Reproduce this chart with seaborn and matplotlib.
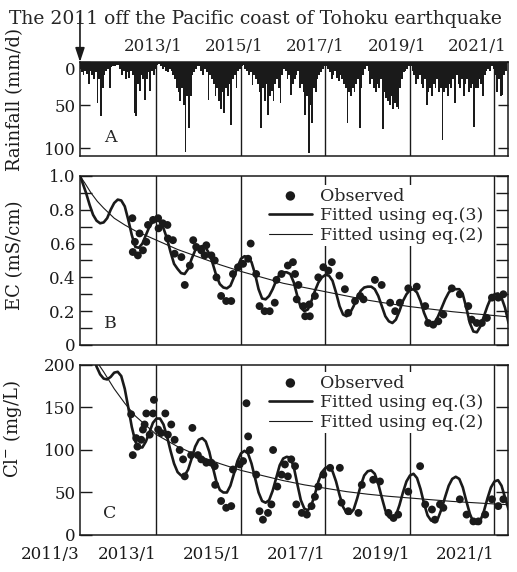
import numpy as np
import matplotlib
matplotlib.use('Agg')
import matplotlib.pyplot as plt
from matplotlib.ticker import MultipleLocator
import seaborn as sns

# x axis in decimal years; it starts on the day of the earthquake (2011/3/11)
t_start, t_end = 2011.19, 2021.32
year_lines = [2013, 2015, 2017, 2019, 2021]
bottom_ticks = [t_start] + year_lines
bottom_labels = ['2011/3', '2013/1', '2015/1', '2017/1', '2019/1', '2021/1']
top_labels = ['2013/1', '2015/1', '2017/1', '2019/1', '2021/1']
top_shift = [-2.5, -4.8, -7.7, -9.4, -12.2]   # points, labels sit a bit left of the lines

# half-monthly rainfall (mm/d), starting March 2011
rain_mm = [
    8, 12, 15, 10, 14, 25, 10, 15, 20, 12, 48, 20, 63, 30, 15, 10, 8, 30, 6, 5,                    # 2011
    5, 3, 4, 8, 15, 10, 20, 12, 18, 10, 15, 59, 63, 25, 34, 15, 20, 44, 20, 12, 34, 10, 15, 8,     # 2012
    3, 2, 5, 8, 6, 10, 12, 8, 10, 15, 20, 30, 35, 45, 30, 50, 104, 40, 77, 40, 15, 12, 8, 5,       # 2013
    5, 10, 15, 8, 12, 44, 15, 20, 25, 40, 30, 45, 55, 35, 59, 30, 40, 25, 73, 20, 15, 30, 10, 8,   # 2014
    5, 3, 8, 10, 15, 12, 27, 15, 20, 25, 35, 77, 30, 45, 25, 62, 40, 34, 45, 25, 20, 30, 47, 15,   # 2015
    8, 10, 20, 15, 38, 25, 20, 15, 10, 30, 25, 35, 61, 40, 106, 50, 71, 30, 35, 20, 15, 12, 8, 5,  # 2016
    5, 8, 12, 20, 15, 10, 18, 22, 15, 20, 25, 30, 71, 35, 40, 30, 35, 25, 20, 76, 30, 15, 8, 5,    # 2017
    10, 25, 20, 30, 35, 25, 30, 20, 78, 35, 42, 45, 50, 40, 55, 48, 52, 55, 30, 20, 12, 10, 8, 5,  # 2018
    5, 10, 15, 25, 20, 15, 25, 30, 20, 50, 35, 30, 40, 25, 30, 20, 35, 30, 91, 35, 30, 40, 25, 30, # 2019
    20, 47, 15, 25, 30, 20, 40, 25, 20, 35, 30, 25, 75, 30, 30, 20, 25, 40, 15, 10, 8, 10, 5, 8,   # 2020
    15, 35, 20, 40, 38, 15, 10,                                                                     # 2021
]

# observed EC (mS/cm)
ec_obs_t = [
    2012.43, 2012.44, 2012.49, 2012.56, 2012.60, 2012.68, 2012.76, 2012.80, 2012.92,
    2013.04, 2013.05, 2013.15, 2013.26, 2013.27, 2013.39, 2013.43, 2013.59, 2013.67, 2013.79, 2013.87, 2013.94,
    2014.06, 2014.14, 2014.18, 2014.30, 2014.38, 2014.42, 2014.53, 2014.65, 2014.77, 2014.81, 2014.93,
    2015.05, 2015.17, 2015.23, 2015.36, 2015.44, 2015.56, 2015.68, 2015.80, 2015.84, 2015.96,
    2016.11, 2016.23, 2016.28, 2016.32, 2016.36, 2016.48, 2016.52, 2016.62, 2016.63, 2016.75, 2016.83, 2016.95,
    2017.07, 2017.15, 2017.33, 2017.46, 2017.54, 2017.70, 2017.82, 2017.90,
    2018.17, 2018.33, 2018.53, 2018.65, 2018.76, 2018.96,
    2019.16, 2019.36, 2019.43, 2019.55, 2019.67, 2019.79, 2019.99,
    2020.18, 2020.38, 2020.46, 2020.58, 2020.70, 2020.82, 2020.94,
    2021.09, 2021.21,
]
ec_obs = [
    0.75, 0.55, 0.61, 0.53, 0.66, 0.56, 0.61, 0.71, 0.74,
    0.75, 0.69, 0.72, 0.71, 0.63, 0.62, 0.54, 0.52, 0.355, 0.47, 0.62, 0.58,
    0.56, 0.53, 0.59, 0.53, 0.50, 0.40, 0.29, 0.26, 0.26, 0.42, 0.46,
    0.48, 0.51, 0.60, 0.42, 0.23, 0.20, 0.20, 0.25, 0.385, 0.42,
    0.47, 0.49, 0.42, 0.27, 0.355, 0.23, 0.17, 0.24, 0.17, 0.29, 0.40, 0.46,
    0.44, 0.49, 0.41, 0.33, 0.19, 0.26, 0.29, 0.27,
    0.385, 0.355, 0.25, 0.20, 0.25, 0.335,
    0.345, 0.23, 0.13, 0.12, 0.14, 0.18, 0.335,
    0.30, 0.23, 0.15, 0.13, 0.13, 0.16, 0.28,
    0.28, 0.30,
]

# observed Cl- (mg/L)
cl_obs_t = [
    2012.40, 2012.44, 2012.52, 2012.55, 2012.64, 2012.68, 2012.72, 2012.76, 2012.84, 2012.92, 2012.94,
    2013.04, 2013.11, 2013.21, 2013.27, 2013.35, 2013.43, 2013.55, 2013.63, 2013.67, 2013.82, 2013.85, 2013.98,
    2014.06, 2014.18, 2014.30, 2014.38, 2014.39, 2014.53, 2014.65, 2014.77, 2014.81, 2014.97,
    2015.05, 2015.13, 2015.17, 2015.21, 2015.36, 2015.44, 2015.52, 2015.64, 2015.72, 2015.76, 2015.86, 2015.96,
    2016.04, 2016.11, 2016.19, 2016.28, 2016.31, 2016.44, 2016.56, 2016.67, 2016.75, 2016.83, 2016.95,
    2017.11, 2017.34, 2017.38, 2017.54, 2017.78, 2017.86,
    2018.13, 2018.29, 2018.49, 2018.61, 2018.72, 2018.96,
    2019.24, 2019.36, 2019.52, 2019.59, 2019.71, 2019.79,
    2020.18, 2020.34, 2020.50, 2020.62, 2020.78, 2020.94,
    2021.09, 2021.21,
]
cl_obs = [
    142, 94, 114, 104, 112, 124, 130, 143, 118, 143, 159,
    124, 120, 143, 118, 130, 112, 100, 89, 69, 94, 126, 94,
    89, 85, 85, 81, 59, 40, 32, 34, 77, 83,
    87, 155, 116, 100, 71, 28, 18, 26, 36, 100, 57, 71,
    83, 69, 89, 81, 36, 26, 24, 34, 45, 57, 71,
    79, 79, 38, 28, 26, 59,
    65, 63, 26, 20, 24, 51,
    81, 36, 30, 18, 36, 32,
    42, 24, 16, 16, 24, 42,
    34, 42,
]

# curve fitted with eq.(3), read monthly from March 2011 to May 2021
ec_fit3 = [
    1.02, 0.96, 0.90, 0.83, 0.77, 0.735, 0.72, 0.725, 0.75, 0.80,
    0.84, 0.86, 0.855, 0.82, 0.74, 0.65, 0.58, 0.575, 0.60, 0.65, 0.70, 0.73,
    0.74, 0.73, 0.69, 0.63, 0.55, 0.48, 0.45, 0.425, 0.42, 0.45, 0.51, 0.56,
    0.58, 0.585, 0.575, 0.54, 0.48, 0.41, 0.36, 0.34, 0.335, 0.35, 0.40, 0.46,
    0.51, 0.525, 0.52, 0.49, 0.42, 0.33, 0.275, 0.27, 0.29, 0.33, 0.38, 0.42,
    0.43, 0.43, 0.42, 0.37, 0.29, 0.22, 0.20, 0.21, 0.26, 0.32, 0.37, 0.40,
    0.415, 0.41, 0.38, 0.31, 0.23, 0.18, 0.17, 0.19, 0.23, 0.28, 0.32, 0.34,
    0.345, 0.345, 0.33, 0.29, 0.23, 0.17, 0.14, 0.13, 0.15, 0.20, 0.26, 0.30,
    0.325, 0.33, 0.31, 0.26, 0.19, 0.14, 0.12, 0.13, 0.17, 0.22, 0.27, 0.31,
    0.33, 0.33, 0.33, 0.30, 0.22, 0.13, 0.08, 0.075, 0.11, 0.17, 0.23, 0.28,
    0.30, 0.305, 0.28, 0.22, 0.13,
]
cl_fit3 = [
    275, 255, 238, 224, 210, 198, 189, 184, 183, 186,
    191, 192, 187, 172, 150, 127, 110, 103, 103, 110, 121, 132,
    137, 137, 130, 116, 99, 84, 74, 70, 70, 77, 90, 104,
    112, 114, 110, 98, 80, 63, 53, 50, 50, 58, 72, 87,
    96, 99, 96, 84, 67, 50, 40, 38, 41, 52, 67, 82,
    90, 92, 91, 80, 60, 41, 31, 29, 35, 48, 63, 74,
    79, 80, 75, 63, 47, 33, 26, 25, 30, 43, 58, 70,
    75, 76, 72, 60, 44, 29, 21, 19, 23, 35, 50, 63,
    70, 72, 67, 54, 37, 23, 17, 16, 20, 31, 45, 58,
    66, 68.5, 66, 56, 40, 25, 15, 13, 17, 28, 43, 56,
    63, 64.5, 58, 44, 30,
]

# curve fitted with eq.(2)
fit2_t = [2011.19, 2011.3, 2011.45, 2011.6, 2011.75, 2012.0, 2012.25, 2012.5, 2013.0, 2013.5,
          2014.0, 2014.5, 2015.0, 2015.5, 2016.0, 2016.5, 2017.0, 2017.5, 2018.0, 2018.5,
          2019.0, 2019.5, 2020.0, 2020.5, 2021.0, 2021.35]
ec_fit2 = [1.00, 0.96, 0.90, 0.85, 0.81, 0.75, 0.71, 0.675, 0.62, 0.565,
           0.52, 0.475, 0.435, 0.40, 0.365, 0.34, 0.315, 0.29, 0.265, 0.245,
           0.227, 0.212, 0.197, 0.185, 0.174, 0.166]
cl_fit2 = [255, 238, 218, 203, 192, 172, 155, 140, 118, 104,
           93, 84, 76, 70, 64, 59, 55, 51, 48, 45.5,
           43.5, 41.5, 39.5, 38, 36.5, 35.5]

rain_t = 2011 + 2 / 12 + (np.arange(len(rain_mm)) + 0.5) / 24
fit3_t = 2011 + 2 / 12 + np.arange(len(ec_fit3)) / 12

sns.set_theme(style='ticks')
plt.rcParams['font.family'] = ['DejaVu Serif']
plt.rcParams['mathtext.fontset'] = 'dejavuserif'
plt.rcParams['axes.linewidth'] = 1.1
FS = 12.5
TS = 12

fig = plt.figure(figsize=(5.17, 5.72), dpi=100)
ax_a = fig.add_axes([0.1547, 0.7273, 0.8279, 0.1643])
ax_b = fig.add_axes([0.1547, 0.3969, 0.8279, 0.2955])
ax_c = fig.add_axes([0.1547, 0.0647, 0.8279, 0.2972])

for ax in (ax_a, ax_b, ax_c):
    ax.set_xlim(t_start, t_end)
    for y in year_lines:
        ax.axvline(y, color='k', lw=1.0, zorder=1)
    for s in ax.spines.values():
        s.set_color('k')
    ax.tick_params(axis='y', which='both', direction='in', length=8.5, width=1,
                   left=True, right=True, labelsize=TS, pad=3, colors='k')
    ax.tick_params(axis='x', length=0, labelsize=TS, colors='k')

# A: rainfall
ax_a.bar(rain_t, rain_mm, width=1 / 24, color='k', linewidth=0, zorder=2)
ax_a.set_ylim(109, 0)
ax_a.set_yticks([0, 50, 100])
ax_a.set_yticklabels(['0', '50', '100'])
ax_a.get_yticklabels()[0].set_verticalalignment('top')
ax_a.tick_params(axis='y', length=7.5)
ax_a.set_xticks([])
for yr, lab, dx in zip(year_lines, top_labels, top_shift):
    ax_a.annotate(lab, xy=(yr, 1), xycoords=('data', 'axes fraction'), xytext=(dx, 5),
                  textcoords='offset points', ha='center', va='bottom', fontsize=TS,
                  annotation_clip=False)
ax_a.set_ylabel('Rainfall (mm/d)', fontsize=13, color='k')
ax_a.yaxis.set_label_coords(-0.130, 0.6)
ax_a.text(0.07, 0.20, 'A', transform=ax_a.transAxes, fontsize=FS, ha='center', va='center')
ax_a.annotate('', xy=(0, 1), xycoords='axes fraction', xytext=(0, 1.5), textcoords='axes fraction',
              arrowprops=dict(arrowstyle='-|>,head_length=0.6,head_width=0.2', mutation_scale=14,
                              color='k', lw=1.2, shrinkA=0, shrinkB=0),
              annotation_clip=False)
fig.text(0.495, 0.967, 'The 2011 off the Pacific coast of Tohoku earthquake',
         ha='center', va='center', fontsize=13.5)


def water_panel(ax, obs_t, obs, fit3, fit2, ylim, letter, ylabel, label_y, leg_top):
    sns.scatterplot(x=obs_t, y=obs, ax=ax, color='k', s=32, edgecolor='none', linewidth=0,
                    label='Observed', zorder=3)
    sns.lineplot(x=fit3_t, y=fit3, ax=ax, color='k', linewidth=1.9,
                 label='Fitted using eq.(3)', zorder=2)
    sns.lineplot(x=fit2_t, y=fit2, ax=ax, color='k', linewidth=0.8,
                 label='Fitted using eq.(2)', zorder=2)
    ax.set_ylim(*ylim)
    ax.set_ylabel(ylabel, fontsize=13, color='k')
    ax.yaxis.set_label_coords(-0.130, label_y)
    ax.text(0.07, 0.125, letter, transform=ax.transAxes, fontsize=FS, ha='center', va='center')
    handles, labels = ax.get_legend_handles_labels()
    order = ['Observed', 'Fitted using eq.(3)', 'Fitted using eq.(2)']
    hs = [handles[labels.index(o)] for o in order]
    ax.legend(hs, order, loc='upper right', bbox_to_anchor=(0.948, leg_top), frameon=True,
              facecolor='white', edgecolor='none', framealpha=1, fancybox=False,
              borderpad=0.15, borderaxespad=0, handlelength=2.5, handletextpad=0.45,
              labelspacing=0.15, fontsize=FS, markerscale=1.2)


# B: EC
water_panel(ax_b, ec_obs_t, ec_obs, ec_fit3, ec_fit2, (0, 1.0), 'B', 'EC (mS/cm)', 0.53, 0.947)
ax_b.yaxis.set_major_locator(MultipleLocator(0.2))
ax_b.yaxis.set_minor_locator(MultipleLocator(0.1))
ax_b.set_yticks([0, 0.2, 0.4, 0.6, 0.8, 1.0])
ax_b.set_yticklabels(['0', '0.2', '0.4', '0.6', '0.8', '1.0'])
ax_b.set_xticks([])

# C: chloride
water_panel(ax_c, cl_obs_t, cl_obs, cl_fit3, cl_fit2, (0, 200), 'C', 'Cl$^{-}$ (mg/L)', 0.62, 0.959)
ax_c.set_yticks([0, 50, 100, 150, 200])
ax_c.set_xticks(bottom_ticks)
ax_c.set_xticklabels(bottom_labels, ha='right')
ax_c.tick_params(axis='x', pad=8)

fig.savefig('out.png', dpi=100)
